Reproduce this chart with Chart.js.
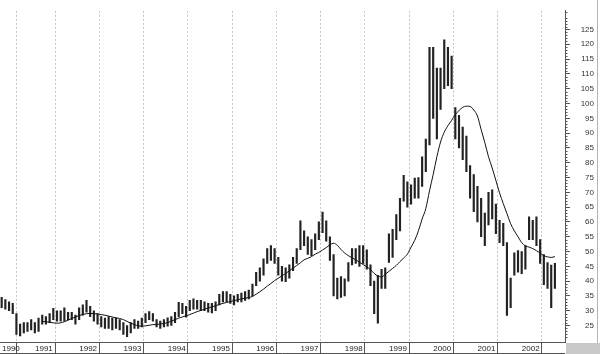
<!DOCTYPE html>
<html><head><meta charset="utf-8">
<script src="https://cdn.jsdelivr.net/npm/chart.js@4.4.1/dist/chart.umd.min.js"></script>
<style>html,body{margin:0;padding:0;background:#fff;overflow:hidden}</style>
</head><body>
<canvas id="c" width="600" height="354"></canvas>
<script>
// ---- data (monthly ranges, Apr 1990 .. Oct 2002) ----
const startYear = 1990, startMonth = 4;
const yearLabels = ["1990","1991","1992","1993","1994","1995","1996","1997","1998","1999","2000","2001","2002"];
const priceTicks = [25,30,35,40,45,50,55,60,65,70,75,80,85,90,95,100,105,110,115,120,125];

const lowPrices = [
  31.0,30.5,30.0,29.0,22.0,21.5,22.5,23.0,23.5,                 // 1990 Apr-Dec
  22.5,23.0,25.5,25.5,26.0,27.0,26.5,26.5,26.5,27.0,27.0,25.5,  // 1991
  27.0,28.5,29.5,28.0,26.5,25.5,24.5,24.0,24.0,23.5,24.0,23.5,  // 1992
  22.0,21.2,22.5,24.0,24.0,24.5,26.0,27.0,26.5,24.5,24.0,24.5,  // 1993
  24.8,25.0,26.0,28.0,29.0,27.8,30.0,30.5,30.5,30.0,30.0,29.5,  // 1994
  29.3,30.0,32.0,33.0,33.0,32.5,32.0,33.0,33.0,33.5,34.0,35.0,  // 1995
  38.5,40.0,42.0,46.0,47.0,46.0,42.0,40.0,39.8,41.0,43.5,46.0,  // 1996
  50.6,52.0,49.0,48.6,50.6,54.0,56.4,53.5,47.0,35.0,34.0,34.5,  // 1997
  35.0,40.0,45.5,46.0,45.0,46.0,44.0,38.5,29.0,25.8,37.5,37.5,  // 1998
  46.3,48.0,54.0,57.0,67.0,65.0,66.0,68.0,68.0,72.0,77.0,86.0,  // 1999
  95.0,88.0,98.0,105.0,106.0,105.0,88.0,85.0,81.0,77.0,68.0,63.5, // 2000
  60.0,55.0,52.0,59.0,61.0,56.0,53.0,52.0,28.4,31.0,42.0,43.0,  // 2001
  42.5,44.0,54.0,54.0,52.0,46.0,38.8,37.5,31.0,37.5             // 2002 Jan-Oct
];
const highPrices = [
  34.5,33.8,33.0,32.5,29.0,25.5,26.0,26.0,27.0,
  26.0,27.5,28.5,28.0,29.0,30.8,30.0,30.0,31.0,29.5,29.5,28.5,
  31.0,32.0,33.5,31.5,30.0,29.0,28.0,27.5,28.0,27.5,27.5,27.0,
  26.0,25.0,26.0,27.0,26.5,27.5,29.0,29.7,29.0,27.0,26.5,27.0,
  27.6,28.0,29.5,32.8,32.5,31.5,33.5,34.0,33.5,33.5,33.0,32.5,
  32.5,33.0,35.5,36.5,36.5,35.5,35.0,35.5,36.0,36.5,37.0,39.0,
  43.0,44.5,47.5,51.0,52.0,51.0,48.0,45.0,44.5,45.5,48.0,51.0,
  60.4,57.0,55.0,54.0,56.0,60.0,63.3,60.4,55.0,49.0,41.0,41.5,
  40.8,46.3,51.0,51.0,52.0,52.0,50.6,45.5,40.0,42.0,44.0,44.5,
  56.0,57.5,62.5,68.0,75.7,73.5,72.5,74.8,75.0,82.0,88.0,119.0,
  119.0,112.0,112.0,121.5,119.0,116.0,98.6,96.0,92.0,89.0,79.0,76.0,
  72.0,68.0,63.0,70.0,70.8,66.0,60.5,59.5,53.0,41.0,49.6,50.3,
  50.0,52.0,61.7,60.5,61.7,54.0,49.0,46.3,45.4,46.0
];
const movingAvg = [
  null,null,null,null,null,null,null,null,null,
  null,null,26.4,26.3,26.1,25.9,25.8,25.9,26.3,26.8,27.4,27.9,
  28.4,28.7,29.0,29.1,29.0,28.9,28.7,28.5,28.2,27.9,27.6,27.4,
  27.0,26.4,25.8,25.3,24.9,24.8,24.9,25.1,25.3,25.4,25.5,25.7,
  26.0,26.5,27.0,27.5,27.9,28.3,28.7,29.2,29.7,30.1,30.5,30.9,
  31.3,31.7,32.1,32.5,32.8,33.1,33.4,33.7,34.0,34.2,34.5,34.8,
  35.6,36.4,37.3,38.3,39.2,40.2,41.0,41.8,42.6,43.5,44.4,45.3,
  46.2,47.2,47.7,48.3,49.1,49.7,50.5,51.3,52.3,52.8,52.1,50.7,
  49.5,48.6,47.9,47.2,46.4,45.6,44.8,43.9,42.6,41.7,41.4,42.3,
  43.3,44.3,45.3,46.6,47.8,49.1,51.5,53.8,57.0,61.0,64.5,70.5,
  76.0,82.0,87.0,90.3,92.5,94.3,96.3,97.6,98.7,99.1,99.0,97.8,
  95.8,91.2,86.8,82.0,78.2,74.0,69.8,66.2,62.8,59.4,57.0,55.0,
  53.0,51.9,51.5,51.0,50.3,49.5,48.6,48.2,48.0,48.3
];

// ---- build tables for the library ----
const monthPos = lowPrices.map((_, i) => {
  const m0 = startMonth - 1 + i;
  const y = startYear + Math.floor(m0 / 12);
  const m = m0 % 12;
  return y + (m + 0.5) / 12;
});
const xMin = 1990.254, xMax = 2003.02;
const barData = monthPos.map((x, i) => ({x: x, y: [lowPrices[i], highPrices[i]]}));
const maData = monthPos.map((x, i) => ({x: x, y: movingAvg[i]}));
const FONT = {family: "'Liberation Sans', Arial, sans-serif", size: 8};

const framePlugin = {
  id: 'frame',
  afterDraw(chart) {
    const ctx = chart.ctx, ys = chart.scales.y, ca = chart.chartArea;
    ctx.save();
    ctx.strokeStyle = '#555'; ctx.lineWidth = 1;
    ctx.beginPath();
    for (let v = Math.ceil(ys.min); v <= Math.floor(ys.max); v++) {
      if (v % 5 === 0) continue;
      const py = Math.round(ys.getPixelForValue(v)) + 0.5;
      ctx.moveTo(ys.left, py); ctx.lineTo(ys.left + 2.5, py);
    }
    ctx.stroke();
    ctx.beginPath();
    ctx.moveTo(0, 353.5); ctx.lineTo(ca.right, 353.5);
    ctx.stroke();
    ctx.fillStyle = '#c8c8c8';
    ctx.fillRect(ca.right + 1, ca.bottom + 1, chart.width - ca.right - 1, chart.height - ca.bottom - 1);
    ctx.strokeStyle = '#b4b4b4';
    ctx.beginPath();
    ctx.moveTo(597.5, 0); ctx.lineTo(597.5, ca.bottom + 1);
    ctx.stroke();
    ctx.restore();
  }
};

new Chart(document.getElementById('c'), {
  type: 'bar',
  data: {
    datasets: [
      {type: 'line', data: maData, borderColor: '#111', borderWidth: 1, pointRadius: 0,
       cubicInterpolationMode: 'monotone', fill: false, order: 0, spanGaps: false},
      {type: 'bar', data: barData, backgroundColor: '#222', borderWidth: 0,
       barThickness: 1.5, order: 1}
    ]
  },
  options: {
    responsive: false, animation: false, devicePixelRatio: 1,
    layout: {padding: {left: 0, top: 0, bottom: 0, right: 6}},
    plugins: {legend: {display: false}, tooltip: {enabled: false}},
    scales: {
      x: {
        type: 'linear', position: 'bottom', min: xMin, max: xMax, offset: false,
        afterBuildTicks: s => { s.ticks = yearLabels.map((y, i) => ({value: i === 0 ? xMin : Number(y)})); },
        afterFit: s => { s.height = 12; },
        ticks: {autoSkip: false, maxRotation: 0, minRotation: 0, align: 'start', labelOffset: 2,
                padding: -10, font: FONT, color: '#222',
                callback: (v, i) => yearLabels[i]},
        grid: {color: '#c4c4c4', lineWidth: 1, tickLength: 12, tickColor: '#555', tickBorderDash: [], drawTicks: true},
        border: {display: true, color: '#555', dash: [2, 2]}
      },
      y: {
        type: 'linear', position: 'right', min: 19.44, max: 131.31,
        afterBuildTicks: s => { s.ticks = priceTicks.map(v => ({value: v})); },
        afterFit: s => { s.width = 29; },
        ticks: {autoSkip: false, crossAlign: 'far', padding: 6, font: FONT, color: '#333',
                callback: v => String(v)},
        grid: {drawOnChartArea: false, drawTicks: true, tickLength: 5, tickColor: '#555'},
        border: {display: true, color: '#555'}
      }
    }
  },
  plugins: [framePlugin]
});
</script>
</body></html>
